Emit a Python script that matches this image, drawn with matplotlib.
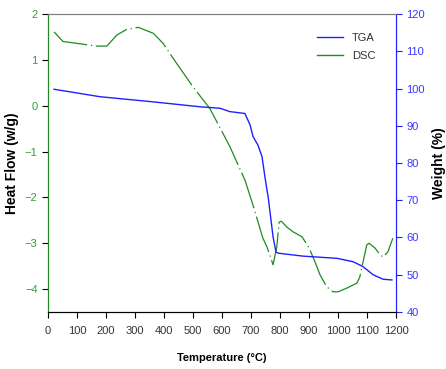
import numpy as np
import matplotlib.pyplot as plt
from matplotlib.lines import Line2D

plt.rcParams['font.family'] = ['Liberation Sans', 'DejaVu Sans']

# DSC heat flow (w/g) against temperature
dsc_t = [21, 52, 100, 168, 203, 237, 270, 311, 363, 397, 432, 500, 558, 627,
         679, 707, 741, 755, 776, 789, 797, 805, 824, 845, 876, 900, 921, 938,
         961, 983, 1000, 1030, 1065, 1075, 1099, 1107, 1127, 1145, 1155, 1172, 1189]
dsc_hf = [1.61, 1.40, 1.36, 1.30, 1.30, 1.54, 1.66, 1.71, 1.58, 1.36, 1.03, 0.41, -0.06, -0.89,
          -1.62, -2.17, -2.89, -3.08, -3.47, -3.08, -2.54, -2.52, -2.65, -2.75, -2.86, -3.10, -3.41, -3.69,
          -3.95, -4.06, -4.06, -3.98, -3.87, -3.74, -3.04, -3.00, -3.10, -3.25, -3.30, -3.19, -2.89]

# TGA weight (%) against temperature
tga_t = [21, 179, 352, 524, 593, 627, 679, 697, 707, 724, 738, 748, 755, 759,
         776, 786, 793, 879, 997, 1052, 1086, 1121, 1155, 1186]
tga_w = [99.8, 97.8, 96.5, 95.1, 94.7, 93.8, 93.3, 90.2, 87.1, 84.8, 81.7, 76.3, 72.8, 71.0,
         60.2, 56.2, 55.8, 55.0, 54.4, 53.5, 52.2, 50.0, 48.8, 48.6]

green = '#208A20'
blue = '#1F1FFF'

fig = plt.figure(figsize=(4.46, 3.69), dpi=100)
ax = fig.add_axes([0.1076, 0.1545, 0.7803, 0.8075])
ax2 = ax.twinx()

ax.plot(dsc_t, dsc_hf, color=green, lw=0.9, ls=(0, (30, 3, 1, 3)))
ax2.plot(tga_t, tga_w, color=blue, lw=1.0)

ax.set_xlim(0, 1200)
ax.set_ylim(-4.5, 2)
ax2.set_ylim(40, 120)
ax.set_xticks(range(0, 1201, 100))
ax.set_yticks(range(-4, 3))
ax2.set_yticks(range(40, 121, 10))

ax.tick_params(axis='x', direction='out', length=4, labelsize=8, colors='black',
               labelcolor='#333333', pad=6)
ax.tick_params(axis='y', direction='out', length=4, labelsize=8, colors='black',
               labelcolor='#30A030')
ax2.tick_params(axis='y', direction='out', length=4, labelsize=8, colors=blue,
                labelcolor='#3838FF')

for a in (ax, ax2):
    a.spines['top'].set_color('#808080')
    a.spines['bottom'].set_color('black')
    a.spines['left'].set_color(green)
    a.spines['right'].set_color(blue)

ax.set_xlabel('Temperature (°C)', fontsize=8, fontweight='bold', labelpad=12)
ax.set_ylabel('Heat Flow (w/g)', fontsize=10, fontweight='bold', labelpad=4)
ax2.set_ylabel('Weight (%)', fontsize=10, fontweight='bold', labelpad=5)

handles = [Line2D([], [], color=blue, lw=1.0), Line2D([], [], color=green, lw=1.0)]
leg = ax2.legend(handles, ['TGA', 'DSC'], loc='upper right', frameon=False,
                 fontsize=8, bbox_to_anchor=(0.97, 0.97), handlelength=2.4,
                 labelspacing=0.7)
for txt in leg.get_texts():
    txt.set_color('#333333')

fig.savefig('out.png', dpi=100)
